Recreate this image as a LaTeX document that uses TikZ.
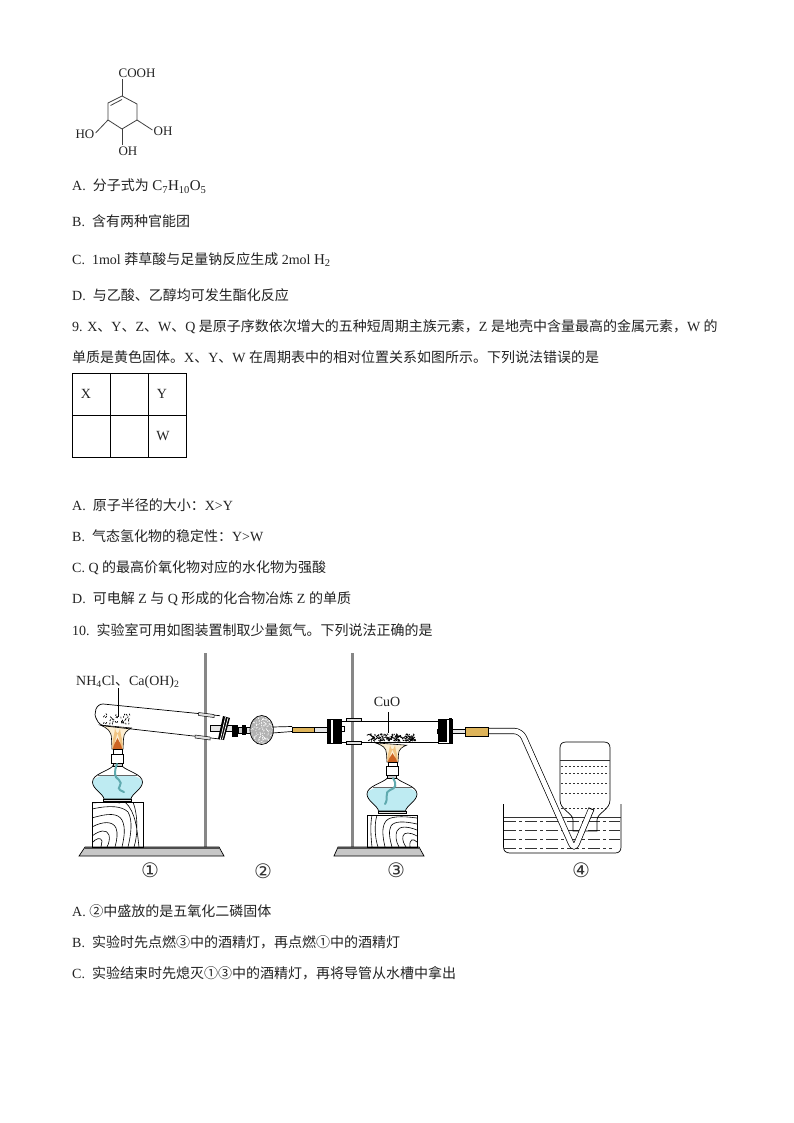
\documentclass[tikz,border=0pt]{standalone}
\usepackage{fontspec}
\setmainfont{Liberation Serif}
\newfontfamily\cjkf{Noto Sans CJK SC}
\newfontfamily\djf{DejaVu Sans}
\newcommand{\zh}[1]{{\cjkf #1}}
\newcommand{\lat}[1]{{\fontsize{15}{15}\selectfont #1}}
\usetikzlibrary{calc}
\definecolor{lampwater}{RGB}{190,235,242}
\definecolor{wick}{RGB}{95,170,175}
\definecolor{rubber}{RGB}{222,180,90}
\definecolor{rodgray}{RGB}{135,135,135}
\definecolor{inkc}{RGB}{35,35,35}
\definecolor{flameout}{RGB}{252,238,210}
\definecolor{flamemid}{RGB}{240,195,130}
\definecolor{flamecore}{RGB}{205,100,35}
\tikzset{
  txt/.style={anchor=base west,inner sep=0pt,font=\fontsize{14}{15}\selectfont,text=inkc},
  chem/.style={inner sep=0pt,font=\fontsize{13}{14}\selectfont,text=inkc},
  bond/.style={draw=black!75,line width=.8pt},
  glass/.style={draw=black,line width=.7pt},
  clampbox/.style={draw=black,line width=.5pt,fill=black!12},
  circlabel/.style={inner sep=0pt,font=\djf\fontsize{20}{20}\selectfont,text=black!80},
  waterline/.style={draw=black!80,line width=.7pt,dash pattern=on 12pt off 3pt on 3pt off 3pt},
  dotline/.style={draw=black!80,line width=.7pt,dash pattern=on 2pt off 2pt},
  pics/flame/.style={code={
    \path[draw=black,line width=.6pt,fill=flameout] (-17.5,-24) .. controls (-10,-21) and (-6,-18) .. (-6,-10) -- (-5.5,0) -- (5.5,0) -- (6,-10) .. controls (6,-16) and (10,-19) .. (14,-21) -- cycle;
    \fill[flamemid] (-5,0) .. controls (-6,-8) and (-3,-13) .. (-2.5,-21) .. controls (-1,-14) and (1,-14) .. (2.5,-21) .. controls (3,-13) and (6,-8) .. (5,0) -- cycle;
    \fill[flameout] (-3,-1) .. controls (-3,-7) and (-1,-12) .. (0,-15) .. controls (1,-12) and (3,-7) .. (3,-1) -- cycle;
    \fill[flamecore] (-4.5,0) .. controls (-4.5,-4) and (-1,-8) .. (0,-11) .. controls (1,-8) and (4.5,-4) .. (4.5,0) -- cycle;
    \draw[black,line width=.6pt,fill=white] (-4.5,0) rectangle (4.5,5);
  }},
  pics/lamp/.style={code={
    % origin at the top of the flask neck
    \path[fill=lampwater] (-14,10) -- (14,10) .. controls (20,12) and (25,14) .. (25,17) .. controls (25,24) and (14,29) .. (13.5,34) -- (-13.5,34) .. controls (-14,29) and (-25,24) .. (-25,17) .. controls (-25,14) and (-20,12) .. (-14,10) -- cycle;
    \draw[glass] (-4.5,0) -- (-4.5,1) .. controls (-9,6) and (-25,9) .. (-25,17) .. controls (-25,24) and (-14,29) .. (-13.5,34) -- (13.5,34) .. controls (14,29) and (25,24) .. (25,17) .. controls (25,9) and (9,6) .. (4.5,1) -- (4.5,0);
    \draw[black!60,line width=.5pt] (-19.5,10) -- (19.5,10);
    \draw[line width=.6pt,black,fill=black!10] (-14,34) rectangle (14,36);
    \draw[line width=.7pt,black,fill=white] (-6,-11) rectangle (6,-2);
    \draw[line width=.7pt,black,fill=black!20] (-4.5,-2) rectangle (4.5,1);
  }}
}
\begin{document}
\begin{tikzpicture}[x=1pt,y=-1pt]
\useasboundingbox[fill=white] (0,0) rectangle (794,1123);

% ---------- structural formula
\node[chem] (cooh) at (137,73) {COOH};
\node[chem] (ohr) at (163,131) {OH};
\node[chem] (ohl) at (85,134) {HO};
\node[chem] (ohb) at (128,151) {OH};
\coordinate (c1) at (122,96);
\coordinate (c2) at (137,104);
\coordinate (c3) at (137,120);
\coordinate (c4) at (122,129);
\coordinate (c5) at (108,120);
\coordinate (c6) at (108,103);
\draw[bond] (c1) -- (c2) -- (c3) -- (c4) -- (c5) -- (c6) -- cycle;
\draw[bond] (110.5,105.5) -- (122,99.5);
\draw[bond] (122,79) -- (c1);
\draw[bond] (c3) -- ($(ohr.west)+(-1,-1)$);
\draw[bond] (c5) -- ($(ohl.east)+(1,-1)$);
\draw[bond] (c4) -- ($(ohb.north -| c4)+(0,-1.5)$);

% ---------- text lines
\node[txt] (a8) at (72,191) {A.\ \ \zh{分子式为} \lat{C\textsubscript{7}H\textsubscript{10}O\textsubscript{5}}};
\node[txt] (b8) at (72,227) {B.\ \ \zh{含有两种官能团}};
\node[txt] (c8) at (72,264) {C.\ \ 1mol \zh{莽草酸与足量钠反应生成} 2mol \lat{H\textsubscript{2}}};
\node[txt] (d8) at (72,300) {D.\ \ \zh{与乙酸、乙醇均可发生酯化反应}};
\node[txt] (q9a) at (72,331) {9. X\zh{、}Y\zh{、}Z\zh{、}W\zh{、}Q \zh{是原子序数依次增大的五种短周期主族元素，}Z \zh{是地壳中含量最高的金属元素，}W \zh{的}};
\node[txt] (q9b) at (72,362) {\zh{单质是黄色固体。}X\zh{、}Y\zh{、}W \zh{在周期表中的相对位置关系如图所示。下列说法错误的是}};
\node[txt] (a9) at (72,510) {A.\ \ \zh{原子半径的大小：}X>Y};
\node[txt] (b9) at (72,541) {B.\ \ \zh{气态氢化物的稳定性：}Y>W};
\node[txt] (c9) at (72,572) {C. Q \zh{的最高价氧化物对应的水化物为强酸}};
\node[txt] (d9) at (72,603) {D.\ \ \zh{可电解} Z \zh{与} Q \zh{形成的化合物冶炼} Z \zh{的单质}};
\node[txt] (q10) at (72,635) {10.\ \ \zh{实验室可用如图装置制取少量氮气。下列说法正确的是}};
\node[txt] (a10) at (72,916) {A. \zh{②中盛放的是五氧化二磷固体}};
\node[txt] (b10) at (72,947) {B.\ \ \zh{实验时先点燃③中的酒精灯，再点燃①中的酒精灯}};
\node[txt] (c10) at (72,978) {C.\ \ \zh{实验结束时先熄灭①③中的酒精灯，再将导管从水槽中拿出}};

% ---------- table
\draw[black,line width=.8pt] (72.5,373.5) rectangle (186.5,457.5);
\draw[black,line width=.8pt] (110.5,373.5) -- (110.5,457.5) (148.5,373.5) -- (148.5,457.5) (72.5,415.5) -- (186.5,415.5);
\node[chem,font=\fontsize{14}{14}\selectfont] (tx) at (86,394) {X};
\node[chem,font=\fontsize{14}{14}\selectfont] (ty) at (162,394) {Y};
\node[chem,font=\fontsize{14}{14}\selectfont] (tw) at (163,436) {W};

% ---------- stands
\fill[rodgray] (204.2,653) rectangle (207.2,848);
\draw[glass,fill=black!22] (85,847) -- (219,847) -- (224,856) -- (79,856) -- cycle;
\fill[black!70] (85,847) rectangle (219,849);
\fill[rodgray] (350.5,653) rectangle (353.5,848);
\draw[glass,fill=black!22] (338,847) -- (419,847) -- (424,856) -- (334,856) -- cycle;
\fill[black!70] (338,847) rectangle (419,849);

% ---------- wood blocks
\begin{scope}
\draw[black,line width=.7pt] (92,802) rectangle (143,847);
\clip (92,802) rectangle (143,847);
\draw[black,line width=.6pt]
 (92,809) .. controls (110,805) and (122,806) .. (128,812) .. controls (133,820) and (131,835) .. (128,847)
 (92,818) .. controls (108,813) and (118,813) .. (122,820) .. controls (126,828) and (124,838) .. (122,847)
 (92,827) .. controls (103,821) and (113,821) .. (116,828) .. controls (118,833) and (117,840) .. (115,847)
 (92,836) .. controls (100,830) and (107,829) .. (109,835) .. controls (110,839) and (109,843) .. (107,847)
 (92,843) .. controls (96,838) and (101,837) .. (102,841) -- (101,847)
 (133,802) .. controls (138,815) and (138,835) .. (134,847)
 (125,802) .. controls (136,812) and (137,830) .. (139,847)
 (92,803) .. controls (105,802) and (115,802) .. (120,803);
\end{scope}
\begin{scope}
\draw[black,line width=.7pt] (367,815) rectangle (417,847);
\clip (367,815) rectangle (417,847);
\draw[black,line width=.6pt]
 (417,818) .. controls (402,816) and (390,816) .. (386,821) .. controls (381,827) and (383,838) .. (385,847)
 (417,824) .. controls (404,821) and (394,821) .. (391,826) .. controls (388,831) and (390,840) .. (392,847)
 (417,830) .. controls (407,826) and (399,826) .. (397,831) .. controls (395,835) and (396,842) .. (399,847)
 (417,836) .. controls (410,832) and (404,832) .. (403,836) .. controls (402,840) and (404,844) .. (406,847)
 (417,842) .. controls (413,838) and (409,839) .. (410,847)
 (377,815) .. controls (374,825) and (375,838) .. (378,847)
 (372,815) .. controls (370,825) and (371,838) .. (372,847);
\end{scope}

% ---------- alcohol lamps
\pic at (117.5,765) {lamp};
\pic at (392,777) {lamp};
\draw[wick,line width=2pt,line cap=round] (117,764) .. controls (114,772) and (114,777) .. (119,780) .. controls (124,784) and (116,788) .. (120,790) -- (124,792);
\draw[wick,line width=2pt,line cap=round] (393,778) .. controls (397,785) and (396,788) .. (390,790) .. controls (384,792) and (389,798) .. (385,804);
\pic at (117.5,749) {flame};
\pic[yscale=.8] at (392.5,762) {flame};

% ---------- test tube of device 1
\draw[glass] (220,715.7) -- (103.3,704) .. controls (96,703.5) and (93,714) .. (96.5,719) .. controls (98,723) and (101,725.5) .. (105,726) -- (220,739);
\node[chem,anchor=base west,font=\fontsize{14}{14}\selectfont] (nh) at (76,685) {NH\textsubscript{4}Cl\zh{、}Ca(OH)\textsubscript{2}};
\coordinate (nhend) at (118,717);
\draw[black,line width=.6pt] (118,688) -- (nhend);
\pgfmathsetseed{4711}
\foreach \i in {1,...,34}{
  \pgfmathsetmacro{\px}{104+rnd*27}
  \pgfmathsetmacro{\py}{713+rnd*10}
  \pgfmathsetmacro{\dx}{rnd*3-1.5}
  \draw[black,line width=.7pt] (\px,\py) -- ++(\dx,1.6);
}
\draw[clampbox] (198.5,712.5) -- (214,714.5) -- (214,717.5) -- (198.5,715.5) -- cycle;
\draw[clampbox] (195,735) -- (210,737) -- (210,740) -- (195,738) -- cycle;

% ---------- stopper and drying tube
\draw[glass,fill=black!10] (210,725) rectangle (237,731);
\fill[black] (223,716) -- (230,718) -- (224,740) -- (218,739) -- cycle;
\draw[white,line width=.7pt] (225.5,717) -- (220.3,739.5);
\draw[white,line width=.7pt] (228,718) -- (222.3,739.5);
\fill[black] (232,725) rectangle (238,737);
\draw[black,line width=.7pt,fill=black!20] (238,727) rectangle (242,733);
\fill[black] (242,725) rectangle (246,735);
\draw[black,line width=.7pt,fill=black!10] (246,727) rectangle (250,733);
\draw[glass,fill=black!30] (261.7,730) ellipse [x radius=11.7,y radius=14.5];
\begin{scope}
\clip (261.7,730) ellipse [x radius=11,y radius=13.8];
\pgfmathsetseed{271}
\foreach \i in {1,...,170}{
  \pgfmathsetmacro{\px}{250+rnd*24}
  \pgfmathsetmacro{\py}{716+rnd*28}
  \fill[white] (\px,\py) circle[radius=.55];
}
\end{scope}
\draw[glass] (272.5,727) -- (292,726.5) (272.5,733) -- (292,731.5);
\draw[black,line width=.5pt,fill=rubber] (292,727) rectangle (314,732);
\draw[glass,fill=black!10] (314,727.5) rectangle (327,732);

% ---------- combustion tube of device 3
\draw[glass] (341,721) -- (438,721) (341,742) -- (438,742);
\draw[glass] (341,726) rectangle (344,731);
\draw[glass] (437,729) rectangle (439,733);
\fill[black] (327,719) rectangle (331,743);
\fill[black] (333,719) rectangle (341,743);
\draw[black,line width=.5pt] (327,719) rectangle (341,743);
\fill[black] (438,720) rectangle (447,742);
\fill[black] (448.5,718) rectangle (452,743);
\draw[black,line width=.5pt] (438,719) rectangle (452,743);
\draw[clampbox] (346,718) rectangle (361,721);
\draw[clampbox] (346,741) rectangle (361,744);
\node[chem,font=\fontsize{14}{14}\selectfont] (cuo) at (387,702) {CuO};
\coordinate (cuoend) at (388,733);
\draw[black,line width=.6pt] (388,712) -- (cuoend);
\pgfmathsetseed{1234}
\foreach \i in {1,...,150}{
  \pgfmathsetmacro{\px}{368+rnd*48}
  \pgfmathsetmacro{\py}{733.5+rnd*7}
  \pgfmathsetmacro{\dx}{rnd*5-2.5}
  \draw[black,line width=.8pt] (\px,\py) -- ++(\dx,1.2);
}

% ---------- water trough
\draw[black,line width=.7pt] (503.5,804) -- (503.5,847) .. controls (503.5,851) and (506,853) .. (510,853) -- (615,853) .. controls (619,853) and (621,851) .. (621,847) -- (621,804);
\draw[black!80,line width=.7pt] (503.5,817) -- (621,817);
\draw[waterline] (504,821) -- (620,821);
\draw[waterline] (504,830) -- (620,830);
\draw[waterline] (504,839) -- (620,839);
\draw[waterline] (504,848) -- (612,848);

% ---------- inverted gas jar
\draw[black,line width=.7pt] (573,831) -- (573,820) .. controls (573,813) and (560,810) .. (560,800) -- (560,748) .. controls (560,744) and (562,742) .. (566,742) -- (604,742) .. controls (608,742) and (610,744) .. (610,748) -- (610,800) .. controls (610,810) and (597,813) .. (597,820) -- (597,831) -- cycle;
\draw[black!80,line width=.7pt] (560,760) -- (610,760);
\foreach \yy in {766,773,783,793,808}{\draw[dotline] (561,\yy) -- (609,\yy);}

% ---------- delivery tube
\draw[black,line width=.7pt,fill=black!10] (452,729) rectangle (466,733.5);
\draw[black,line width=6.2pt,rounded corners=7pt] (487,731) -- (521,731) -- (574,850) -- (591.5,808.5);
\draw[white,line width=4.8pt,rounded corners=7pt] (486,731) -- (521,731) -- (574,850) -- (591,809.5);
\draw[black,line width=.5pt,fill=rubber] (465,727) rectangle (488,736);

% ---------- labels
\node[circlabel] (n1) at (150,870) {①};
\node[circlabel] (n2) at (263,871) {②};
\node[circlabel] (n3) at (396,870) {③};
\node[circlabel] (n4) at (581,870) {④};
\end{tikzpicture}
\end{document}
